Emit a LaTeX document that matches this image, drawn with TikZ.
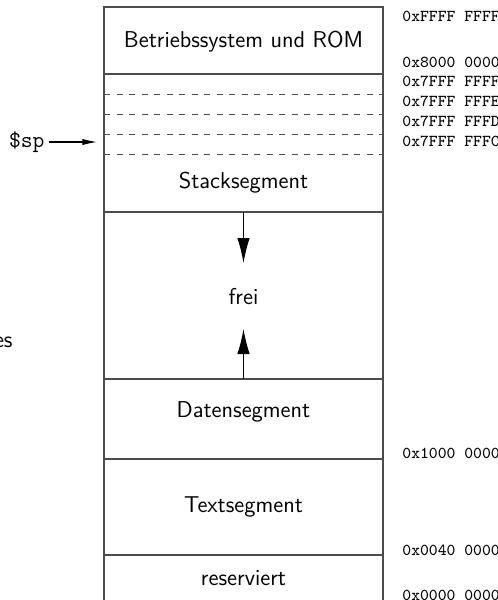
\documentclass[tikz,border=0pt]{standalone}
\usetikzlibrary{arrows.meta}
\begin{document}
\begin{tikzpicture}[x=0.48pt,y=-0.48pt,
  seg/.style={font=\fontsize{11}{13}\sffamily},
  adr/.style={font=\fontsize{8}{9.5}\ttfamily,anchor=west,inner sep=0pt},
  wall/.style={draw=black!70,line width=0.5pt},
  growarrow/.style={-{Latex[length=12pt,width=6pt]},line width=0.5pt}]
\useasboundingbox (0,0) rectangle (498,600);
\clip (0,0) rectangle (498,600);
% Adressraum
\draw[wall] (104,610) -- (104,7) -- (383,7) -- (383,610);
\foreach \y in {74,212,379,459,555}{\draw[wall] (104,\y) -- (383,\y);}
\foreach \y in {94,114,134,154}{\draw[dashed,black!70,line width=0.4pt] (104,\y) -- (383,\y);}
% Segmente
\node[seg] (os) at (243.5,42) {Betriebssystem und ROM};
\node[seg] (stack) at (243.5,183) {Stacksegment};
\node[seg] (frei) at (243.5,297) {frei};
\node[seg] (data) at (243.5,412) {Datensegment};
\node[seg] (text) at (243.5,507) {Textsegment};
\node[seg] (res) at (243.5,578) {reserviert};
\node[seg,anchor=east,inner sep=0pt] (es) at (13,342) {es};
% Wachstum von Stack und Heap
\coordinate (stackbot) at (243.5,212);
\coordinate (stackend) at (243.5,263);
\coordinate (datatop) at (243.5,379);
\coordinate (dataend) at (243.5,329);
\draw[growarrow] (stackbot) -- (stackend);
\draw[growarrow] (datatop) -- (dataend);
% Stackpointer
\node[font=\fontsize{11}{13}\ttfamily,anchor=east,inner sep=2pt] (sp) at (49,142) {\$sp};
\coordinate (sptr) at (97,142);
\draw[-{Latex[length=7pt,width=3pt]},line width=0.5pt] (sp) -- (sptr);
% Adressen
\foreach \y/\adrtext in {16/0xFFFF FFFF,62/0x8000 0000,81/0x7FFF FFFF,101/0x7FFF FFFE,
  121/0x7FFF FFFD,141/0x7FFF FFFC,453/0x1000 0000,550/0x0040 0000,595/0x0000 0000}
  \node[adr] (a\y) at (402,\y) {\adrtext};
\end{tikzpicture}
\end{document}
